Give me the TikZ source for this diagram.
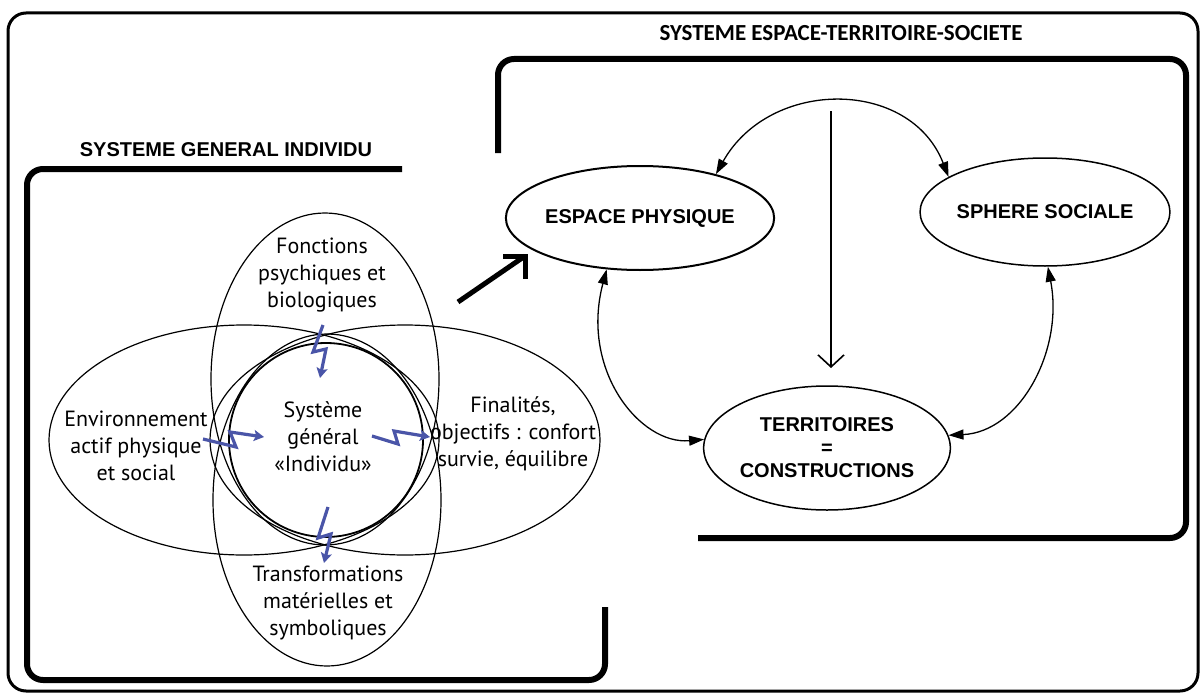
\documentclass[tikz,border=0pt]{standalone}
\usepackage{fontspec}
\setmainfont{PT Sans}
\newfontfamily\arialfont{Liberation Sans}
\newfontfamily\calfont{Carlito}
\usetikzlibrary{arrows.meta,shapes.geometric}
\definecolor{boltblue}{HTML}{4A55A8}
\begin{document}
\begin{tikzpicture}[x=1pt,y=-1pt,
  boxline/.style={line width=6pt, rounded corners=16pt},
  outerline/.style={line width=3pt, rounded corners=18pt},
  lell/.style={draw, ellipse, line width=1.2pt, inner sep=0pt},
  rell/.style={draw, ellipse, line width=1.5pt, inner sep=0pt, align=center,
     font=\arialfont\bfseries\fontsize{20}{23}\selectfont},
  lbl/.style={align=center, inner sep=0pt, font=\fontsize{22}{27}\selectfont},
  conn/.style={line width=1.3pt},
  tri/.tip={Triangle[length=15pt,width=10pt]},
  bolt/.style={boltblue, line width=3.2pt, line join=miter, -{Stealth[length=10pt,width=11pt,inset=2pt]}},
  bigarrow/.style={line width=5pt, line join=miter}
]
\useasboundingbox (0,0) rectangle (1202,693);
\fill[white] (0,0) rectangle (1202,693);

% frames
\draw[outerline] (8,13) rectangle (1198,691);
\draw[boxline] (402,169) -- (27,169) -- (27,680) -- (605,680) -- (605,607);
\draw[boxline] (498,153) -- (498,59) -- (1186,59) -- (1186,538) -- (698,538);

% titles
\node[font=\arialfont\bfseries\fontsize{20}{24}\selectfont] (t1) at (226,150) {SYSTEME GENERAL INDIVIDU};
\node[font=\calfont\bfseries\fontsize{23}{28}\selectfont] (t2) at (841,33) {SYSTEME ESPACE-TERRITOIRE-SOCIETE};

% left system
\node[lell, minimum width=390pt, minimum height=230pt] (env) at (244,440) {};
\node[lell, minimum width=390pt, minimum height=230pt] (fin) at (405,440) {};
\node[lell, minimum width=228pt, minimum height=332pt] (fon) at (325,379) {};
\node[lell, minimum width=228pt, minimum height=332pt] (tra) at (327,500) {};
\node[draw, circle, line width=1.8pt, minimum size=194pt, inner sep=0pt] (ind) at (326,440) {};

\node[lbl] (tfon) at (322,275) {Fonctions\\psychiques et\\biologiques};
\node[lbl] (tenv) at (136,446) {Environnement\\actif physique\\et social};
\node[lbl] (tind) at (323,437) {Système\\général\\«Individu»};
\node[lbl] (tfin) at (513,434) {Finalités,\\objectifs : confort\\survie, équilibre};
\node[lbl] (ttra) at (328,603) {Transformations\\matérielles et\\symboliques};

\draw[bolt] (323,325) -- (313,352) -- (326,349) -- (320,378);
\draw[bolt] (203,439) -- (236,447) -- (230,432) -- (264,437);
\draw[bolt] (372,436) -- (398,444) -- (394,431) -- (430,437);
\draw[bolt] (328,507) -- (318,538) -- (331,534) -- (324,563);

% big arrow
\coordinate (ba1) at (458,302);
\coordinate (ba2) at (525,256);
\coordinate (bb1) at (503,256);
\coordinate (bb2) at (525,279);
\draw[bigarrow] (ba1) -- (ba2);
\draw[bigarrow] (bb1) -- (ba2) -- (bb2);

% right system
\node[rell, line width=2pt, minimum width=212pt, minimum height=104pt] (ep) at (640,218) {ESPACE PHYSIQUE};
\node[rell, minimum width=218pt, minimum height=108pt] (ss) at (1045,212) {SPHERE SOCIALE};
\node[rell, minimum width=212pt, minimum height=124pt] (te) at (827,448) {TERRITOIRES\\=\\CONSTRUCTIONS};

\draw[conn, tri-tri] (ep.30) .. controls (770,78) and (910,78) .. (ss.160);
\draw[conn, tri-tri] (ep.-123) .. controls (580,370) and (640,445) .. (te.176);
\draw[conn, tri-tri] (ss.-87) .. controls (1064,350) and (1020,432) .. (te.6);

\coordinate (vtop) at (831,111);
\coordinate (vend) at (831,368);
\draw[conn, line width=1.6pt, -{Straight Barb[length=12pt,width=26pt]}] (vtop) -- (vend);
\end{tikzpicture}
\end{document}
